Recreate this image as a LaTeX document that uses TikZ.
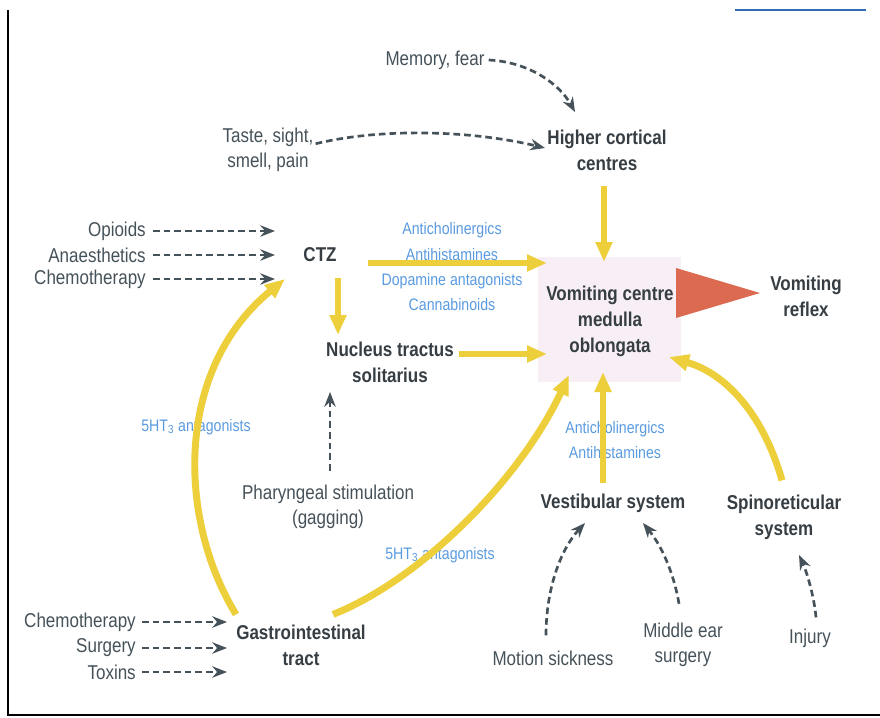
\documentclass[tikz,border=0pt]{standalone}
\usepackage{fontspec}
\setmainfont{Liberation Sans}[FakeStretch=0.85]
\usetikzlibrary{arrows.meta}
\definecolor{txt}{HTML}{46525A}
\definecolor{btxt}{HTML}{363E44}
\definecolor{blu}{HTML}{5A9BE0}
\definecolor{yel}{HTML}{EDCF3C}
\definecolor{dk}{HTML}{46525A}
\definecolor{redt}{HTML}{DB6A50}
\definecolor{pinkbg}{HTML}{F7EFF5}
\definecolor{edge}{HTML}{2E6DB5}
\begin{document}
\begin{tikzpicture}[x=0.75pt,y=-0.75pt,
  lab/.style={inner sep=0pt, text=txt, font=\fontsize{15}{19}\selectfont, align=center},
  blab/.style={inner sep=0pt, text=btxt, font=\fontsize{15}{19.5}\selectfont\bfseries, align=center},
  drug/.style={inner sep=0pt, text=blu, font=\fontsize{12.5}{19}\selectfont, align=center},
  darr/.style={draw=dk, line width=2pt, dash pattern=on 5pt off 3pt, -{Stealth[length=11pt,width=8.5pt]}},
  yarr/.style={draw=yel, line width=5.2pt, -{Triangle[length=15pt,width=12pt]}},
]
\useasboundingbox (0,0) rectangle (880,717);
\fill[white] (0,0) rectangle (880,717);
% frame
\draw[black, line width=1.2pt] (8,10) -- (8,715) -- (880,715);
\draw[edge, line width=2pt] (735,10) -- (866,10);
% vomiting centre background
\fill[pinkbg] (538,257) rectangle (681,382);

% nodes
\node[lab] (mem) at (435,60) {Memory, fear};
\node[lab] (tas) at (268,150) {Taste, sight,\\smell, pain};
\node[blab] (hcc) at (607,150) {Higher cortical\\centres};
\node[lab, anchor=east] (opi) at (146,231) {Opioids};
\node[lab, anchor=east] (ana) at (146,255) {Anaesthetics};
\node[lab, anchor=east] (che) at (146,279) {Chemotherapy};
\node[blab] (ctz) at (320,255) {CTZ};
\node[drug] (dr1) at (452,267) {Anticholinergics\\Antihistamines\\Dopamine antagonists\\Cannabinoids};
\node[blab] (nts) at (390,362) {Nucleus tractus\\solitarius};
\node[blab] (vc) at (610,321) {Vomiting centre\\medulla\\oblongata};
\node[blab] (vr) at (806,296) {Vomiting\\reflex};
\node[drug] (ht1) at (196,427) {5HT\textsubscript{3} antagonists};
\node[lab] (phs) at (328,507) {Pharyngeal stimulation\\(gagging)};
\node[drug] (ht2) at (440,555) {5HT\textsubscript{3} antagonists};
\node[drug] (dr2) at (615,440) {Anticholinergics\\Antihistamines};
\node[blab] (ves) at (613,503) {Vestibular system};
\node[blab] (spi) at (784,517) {Spinoreticular\\system};
\node[lab] (mot) at (553,658) {Motion sickness};
\node[lab] (mid) at (683,645) {Middle ear\\surgery};
\node[lab] (inj) at (810,638) {Injury};
\node[blab] (gi) at (301,645) {Gastrointestinal\\tract};
\node[lab, anchor=east] (che2) at (136,622) {Chemotherapy};
\node[lab, anchor=east] (sur) at (136,648) {Surgery};
\node[lab, anchor=east] (tox) at (136,672) {Toxins};

% named arrow ends
\coordinate (hccA) at (575,112);
\coordinate (hccB) at (545,148);
\coordinate (ctzA) at (275,231);
\coordinate (ctzB) at (275,255);
\coordinate (ctzC) at (275,279);
\coordinate (ctzD) at (285,279);
\coordinate (vcT) at (604,262);
\coordinate (vcL1) at (547,263);
\coordinate (vcL2) at (547,354);
\coordinate (vcB1) at (569,375);
\coordinate (vcB2) at (603,372);
\coordinate (vcB3) at (669,357);
\coordinate (ntsT) at (338,335);
\coordinate (ntsB) at (330,392);
\coordinate (vesA) at (585,523);
\coordinate (vesB) at (643,523);
\coordinate (spiB) at (799,555);
\coordinate (giA) at (227,622);
\coordinate (giB) at (227,648);
\coordinate (giC) at (227,672);

% dark dashed connectors
\draw[darr] (mem.east) ++(4,0) .. controls (530,62) and (560,85) .. (hccA);
\draw[darr] (tas.north east) ++(2,16) .. controls (380,128) and (470,130) .. (hccB);
\draw[darr] (opi.east) ++(7,0) -- (ctzA);
\draw[darr] (ana.east) ++(7,0) -- (ctzB);
\draw[darr] (che.east) ++(7,0) -- (ctzC);
\draw[darr] (phs.north) ++(2,-14) -- (ntsB);
\draw[darr] (mot.north) ++(-7,-15) .. controls (546,590) and (560,550) .. (vesA);
\draw[darr] (mid.north) ++(-4,-19) .. controls (675,580) and (665,550) .. (vesB);
\draw[darr] (inj.north) ++(6,-11) .. controls (814,595) and (806,570) .. (spiB);
\draw[darr] (che2.east) ++(6,0) -- (giA);
\draw[darr] (sur.east) ++(6,0) -- (giB);
\draw[darr] (tox.east) ++(6,0) -- (giC);

% yellow connectors
\draw[yarr] (hcc.south) ++(-3,15) -- (vcT);
\draw[yarr] (ctz.east) ++(31,8) -- (vcL1);
\draw[yarr] (ctz.south) ++(18,16) -- (ntsT);
\draw[yarr] (nts.east) ++(5,-8) -- (vcL2);
\draw[yarr] (ves.north) ++(-10,-10) -- (vcB2);
\draw[yarr] (gi.north west) ++(0,-10) .. controls (178,520) and (174,370) .. (ctzD);
\draw[yarr] (gi.north) ++(32,-10) .. controls (420,580) and (520,480) .. (vcB1);
\draw[yarr] (spi.north) ++(-2,-14) .. controls (765,420) and (730,375) .. (vcB3);

% vomiting reflex triangle
\fill[redt] (676,268) -- (760,293) -- (676,318) -- cycle;
\end{tikzpicture}
\end{document}
